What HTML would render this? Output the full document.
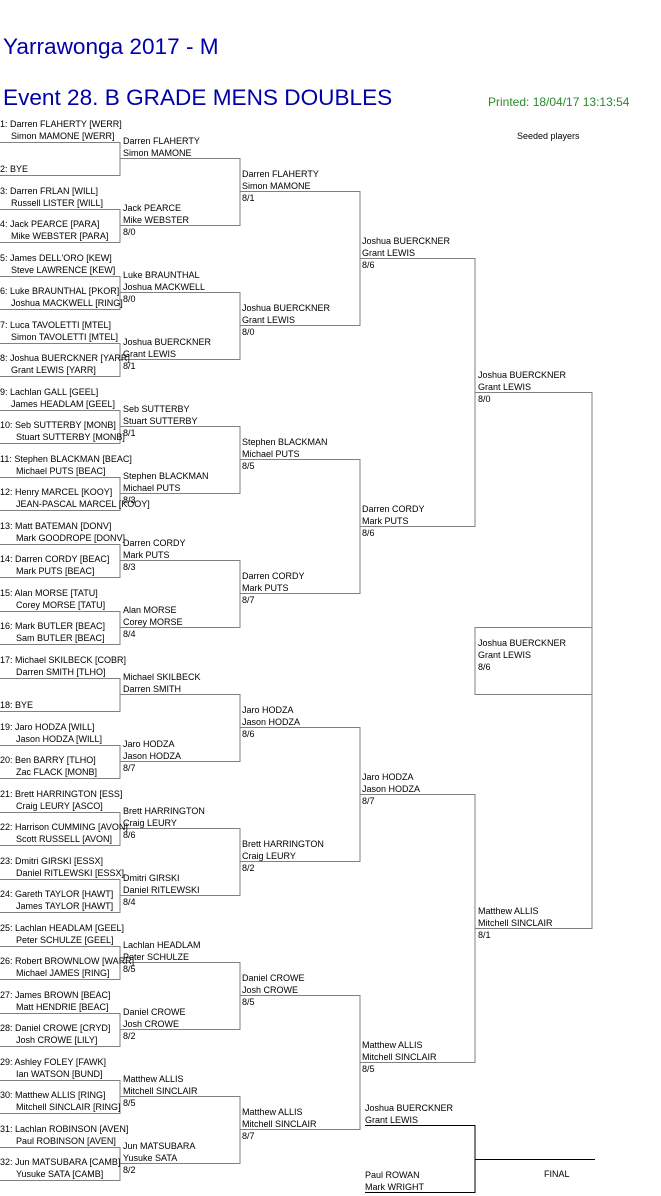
<!DOCTYPE html>
<html><head><meta charset="utf-8"><style>
html,body{margin:0;padding:0;background:#fff;width:661px;height:1196px;overflow:hidden}
svg{display:block}
text{font-family:"Liberation Sans",Arial,sans-serif;font-size:9px;fill:#000}
.t{fill:#0000a8;font-size:22.6px}
.p{fill:#2a8a2a;font-size:12px}
</style></head><body>
<svg width="661" height="1196" viewBox="0 0 661 1196" xmlns="http://www.w3.org/2000/svg">
<text class="t" x="3" y="54">Yarrawonga 2017 - M</text>
<text class="t" x="3" y="105">Event 28. B GRADE MENS DOUBLES</text>
<text class="p" x="488" y="106">Printed: 18/04/17 13:13:54</text>
<text x="517" y="139">Seeded players</text>

<g stroke="#808080" stroke-width="1" fill="none" shape-rendering="crispEdges">
<path d="M0 142.5H120V175.5H0 M0 209.5H120V242.5H0 M0 276.5H120V309.5H0 M0 343.5H120V376.5H0 M0 410.5H120V443.5H0 M0 477.5H120V510.5H0 M0 544.5H120V577.5H0 M0 611.5H120V644.5H0 M0 678.5H120V711.5H0 M0 745.5H120V778.5H0 M0 812.5H120V845.5H0 M0 879.5H120V912.5H0 M0 946.5H120V979.5H0 M0 1013.5H120V1046.5H0 M0 1080.5H120V1113.5H0 M0 1147.5H120V1180.5H0"/>
<path d="M120 158.5H240V225.5H120 M120 292.5H240V359.5H120 M120 426.5H240V493.5H120 M120 560.5H240V627.5H120 M120 694.5H240V761.5H120 M120 828.5H240V895.5H120 M120 962.5H240V1029.5H120 M120 1096.5H240V1163.5H120"/>
<path d="M240 191.5H360V325.5H240 M240 459.5H360V593.5H240 M240 727.5H360V861.5H240 M240 995.5H360V1129.5H240"/>
<path d="M360 258.5H475V526.5H360 M360 794.5H475V1062.5H360"/>
<path d="M475 392.5H592V928.5H475"/>
<path d="M592 627.5H475V694.5H592"/>
</g>
<g stroke="#000" stroke-width="1" fill="none" shape-rendering="crispEdges">
<path d="M365 1125.5H475V1192.5H365 M475 1159.5H595"/>
</g>

<g transform="translate(0,142)"><text x="0" y="-15">1: Darren FLAHERTY [WERR]</text><text x="11" y="-3">Simon MAMONE [WERR]</text></g>
<g transform="translate(0,175)"><text x="0" y="-3">2: BYE</text></g>
<g transform="translate(0,209)"><text x="0" y="-15">3: Darren FRLAN [WILL]</text><text x="11" y="-3">Russell LISTER [WILL]</text></g>
<g transform="translate(0,242)"><text x="0" y="-15">4: Jack PEARCE [PARA]</text><text x="11" y="-3">Mike WEBSTER [PARA]</text></g>
<g transform="translate(0,276)"><text x="0" y="-15">5: James DELL'ORO [KEW]</text><text x="11" y="-3">Steve LAWRENCE [KEW]</text></g>
<g transform="translate(0,309)"><text x="0" y="-15">6: Luke BRAUNTHAL [PKOR]</text><text x="11" y="-3">Joshua MACKWELL [RING]</text></g>
<g transform="translate(0,343)"><text x="0" y="-15">7: Luca TAVOLETTI [MTEL]</text><text x="11" y="-3">Simon TAVOLETTI [MTEL]</text></g>
<g transform="translate(0,376)"><text x="0" y="-15">8: Joshua BUERCKNER [YARR]</text><text x="11" y="-3">Grant LEWIS [YARR]</text></g>
<g transform="translate(0,410)"><text x="0" y="-15">9: Lachlan GALL [GEEL]</text><text x="11" y="-3">James HEADLAM [GEEL]</text></g>
<g transform="translate(0,443)"><text x="0" y="-15">10: Seb SUTTERBY [MONB]</text><text x="16" y="-3">Stuart SUTTERBY [MONB]</text></g>
<g transform="translate(0,477)"><text x="0" y="-15">11: Stephen BLACKMAN [BEAC]</text><text x="16" y="-3">Michael PUTS [BEAC]</text></g>
<g transform="translate(0,510)"><text x="0" y="-15">12: Henry MARCEL [KOOY]</text><text x="16" y="-3">JEAN-PASCAL MARCEL [KOOY]</text></g>
<g transform="translate(0,544)"><text x="0" y="-15">13: Matt BATEMAN [DONV]</text><text x="16" y="-3">Mark GOODROPE [DONV]</text></g>
<g transform="translate(0,577)"><text x="0" y="-15">14: Darren CORDY [BEAC]</text><text x="16" y="-3">Mark PUTS [BEAC]</text></g>
<g transform="translate(0,611)"><text x="0" y="-15">15: Alan MORSE [TATU]</text><text x="16" y="-3">Corey MORSE [TATU]</text></g>
<g transform="translate(0,644)"><text x="0" y="-15">16: Mark BUTLER [BEAC]</text><text x="16" y="-3">Sam BUTLER [BEAC]</text></g>
<g transform="translate(0,678)"><text x="0" y="-15">17: Michael SKILBECK [COBR]</text><text x="16" y="-3">Darren SMITH [TLHO]</text></g>
<g transform="translate(0,711)"><text x="0" y="-3">18: BYE</text></g>
<g transform="translate(0,745)"><text x="0" y="-15">19: Jaro HODZA [WILL]</text><text x="16" y="-3">Jason HODZA [WILL]</text></g>
<g transform="translate(0,778)"><text x="0" y="-15">20: Ben BARRY [TLHO]</text><text x="16" y="-3">Zac FLACK [MONB]</text></g>
<g transform="translate(0,812)"><text x="0" y="-15">21: Brett HARRINGTON [ESS]</text><text x="16" y="-3">Craig LEURY [ASCO]</text></g>
<g transform="translate(0,845)"><text x="0" y="-15">22: Harrison CUMMING [AVON]</text><text x="16" y="-3">Scott RUSSELL [AVON]</text></g>
<g transform="translate(0,879)"><text x="0" y="-15">23: Dmitri GIRSKI [ESSX]</text><text x="16" y="-3">Daniel RITLEWSKI [ESSX]</text></g>
<g transform="translate(0,912)"><text x="0" y="-15">24: Gareth TAYLOR [HAWT]</text><text x="16" y="-3">James TAYLOR [HAWT]</text></g>
<g transform="translate(0,946)"><text x="0" y="-15">25: Lachlan HEADLAM [GEEL]</text><text x="16" y="-3">Peter SCHULZE [GEEL]</text></g>
<g transform="translate(0,979)"><text x="0" y="-15">26: Robert BROWNLOW [WARR]</text><text x="16" y="-3">Michael JAMES [RING]</text></g>
<g transform="translate(0,1013)"><text x="0" y="-15">27: James BROWN [BEAC]</text><text x="16" y="-3">Matt HENDRIE [BEAC]</text></g>
<g transform="translate(0,1046)"><text x="0" y="-15">28: Daniel CROWE [CRYD]</text><text x="16" y="-3">Josh CROWE [LILY]</text></g>
<g transform="translate(0,1080)"><text x="0" y="-15">29: Ashley FOLEY [FAWK]</text><text x="16" y="-3">Ian WATSON [BUND]</text></g>
<g transform="translate(0,1113)"><text x="0" y="-15">30: Matthew ALLIS [RING]</text><text x="16" y="-3">Mitchell SINCLAIR [RING]</text></g>
<g transform="translate(0,1147)"><text x="0" y="-15">31: Lachlan ROBINSON [AVEN]</text><text x="16" y="-3">Paul ROBINSON [AVEN]</text></g>
<g transform="translate(0,1180)"><text x="0" y="-15">32: Jun MATSUBARA [CAMB]</text><text x="16" y="-3">Yusuke SATA [CAMB]</text></g>

<g transform="translate(123,158)"><text y="-14">Darren FLAHERTY</text><text y="-2">Simon MAMONE</text></g>
<g transform="translate(123,225)"><text y="-14">Jack PEARCE</text><text y="-2">Mike WEBSTER</text><text y="10">8/0</text></g>
<g transform="translate(123,292)"><text y="-14">Luke BRAUNTHAL</text><text y="-2">Joshua MACKWELL</text><text y="10">8/0</text></g>
<g transform="translate(123,359)"><text y="-14">Joshua BUERCKNER</text><text y="-2">Grant LEWIS</text><text y="10">8/1</text></g>
<g transform="translate(123,426)"><text y="-14">Seb SUTTERBY</text><text y="-2">Stuart SUTTERBY</text><text y="10">8/1</text></g>
<g transform="translate(123,493)"><text y="-14">Stephen BLACKMAN</text><text y="-2">Michael PUTS</text><text y="10">8/3</text></g>
<g transform="translate(123,560)"><text y="-14">Darren CORDY</text><text y="-2">Mark PUTS</text><text y="10">8/3</text></g>
<g transform="translate(123,627)"><text y="-14">Alan MORSE</text><text y="-2">Corey MORSE</text><text y="10">8/4</text></g>
<g transform="translate(123,694)"><text y="-14">Michael SKILBECK</text><text y="-2">Darren SMITH</text></g>
<g transform="translate(123,761)"><text y="-14">Jaro HODZA</text><text y="-2">Jason HODZA</text><text y="10">8/7</text></g>
<g transform="translate(123,828)"><text y="-14">Brett HARRINGTON</text><text y="-2">Craig LEURY</text><text y="10">8/6</text></g>
<g transform="translate(123,895)"><text y="-14">Dmitri GIRSKI</text><text y="-2">Daniel RITLEWSKI</text><text y="10">8/4</text></g>
<g transform="translate(123,962)"><text y="-14">Lachlan HEADLAM</text><text y="-2">Peter SCHULZE</text><text y="10">8/5</text></g>
<g transform="translate(123,1029)"><text y="-14">Daniel CROWE</text><text y="-2">Josh CROWE</text><text y="10">8/2</text></g>
<g transform="translate(123,1096)"><text y="-14">Matthew ALLIS</text><text y="-2">Mitchell SINCLAIR</text><text y="10">8/5</text></g>
<g transform="translate(123,1163)"><text y="-14">Jun MATSUBARA</text><text y="-2">Yusuke SATA</text><text y="10">8/2</text></g>

<g transform="translate(242,191)"><text y="-14">Darren FLAHERTY</text><text y="-2">Simon MAMONE</text><text y="10">8/1</text></g>
<g transform="translate(242,325)"><text y="-14">Joshua BUERCKNER</text><text y="-2">Grant LEWIS</text><text y="10">8/0</text></g>
<g transform="translate(242,459)"><text y="-14">Stephen BLACKMAN</text><text y="-2">Michael PUTS</text><text y="10">8/5</text></g>
<g transform="translate(242,593)"><text y="-14">Darren CORDY</text><text y="-2">Mark PUTS</text><text y="10">8/7</text></g>
<g transform="translate(242,727)"><text y="-14">Jaro HODZA</text><text y="-2">Jason HODZA</text><text y="10">8/6</text></g>
<g transform="translate(242,861)"><text y="-14">Brett HARRINGTON</text><text y="-2">Craig LEURY</text><text y="10">8/2</text></g>
<g transform="translate(242,995)"><text y="-14">Daniel CROWE</text><text y="-2">Josh CROWE</text><text y="10">8/5</text></g>
<g transform="translate(242,1129)"><text y="-14">Matthew ALLIS</text><text y="-2">Mitchell SINCLAIR</text><text y="10">8/7</text></g>

<g transform="translate(362,258)"><text y="-14">Joshua BUERCKNER</text><text y="-2">Grant LEWIS</text><text y="10">8/6</text></g>
<g transform="translate(362,526)"><text y="-14">Darren CORDY</text><text y="-2">Mark PUTS</text><text y="10">8/6</text></g>
<g transform="translate(362,794)"><text y="-14">Jaro HODZA</text><text y="-2">Jason HODZA</text><text y="10">8/7</text></g>
<g transform="translate(362,1062)"><text y="-14">Matthew ALLIS</text><text y="-2">Mitchell SINCLAIR</text><text y="10">8/5</text></g>

<g transform="translate(478,392)"><text y="-14">Joshua BUERCKNER</text><text y="-2">Grant LEWIS</text><text y="10">8/0</text></g>
<g transform="translate(478,928)"><text y="-14">Matthew ALLIS</text><text y="-2">Mitchell SINCLAIR</text><text y="10">8/1</text></g>

<text x="478" y="646">Joshua BUERCKNER</text>
<text x="478" y="658">Grant LEWIS</text>
<text x="478" y="670">8/6</text>

<text x="365" y="1111">Joshua BUERCKNER</text>
<text x="365" y="1123">Grant LEWIS</text>
<text x="365" y="1178">Paul ROWAN</text>
<text x="365" y="1190">Mark WRIGHT</text>
<text x="544" y="1177">FINAL</text>
</svg>
</body></html>
